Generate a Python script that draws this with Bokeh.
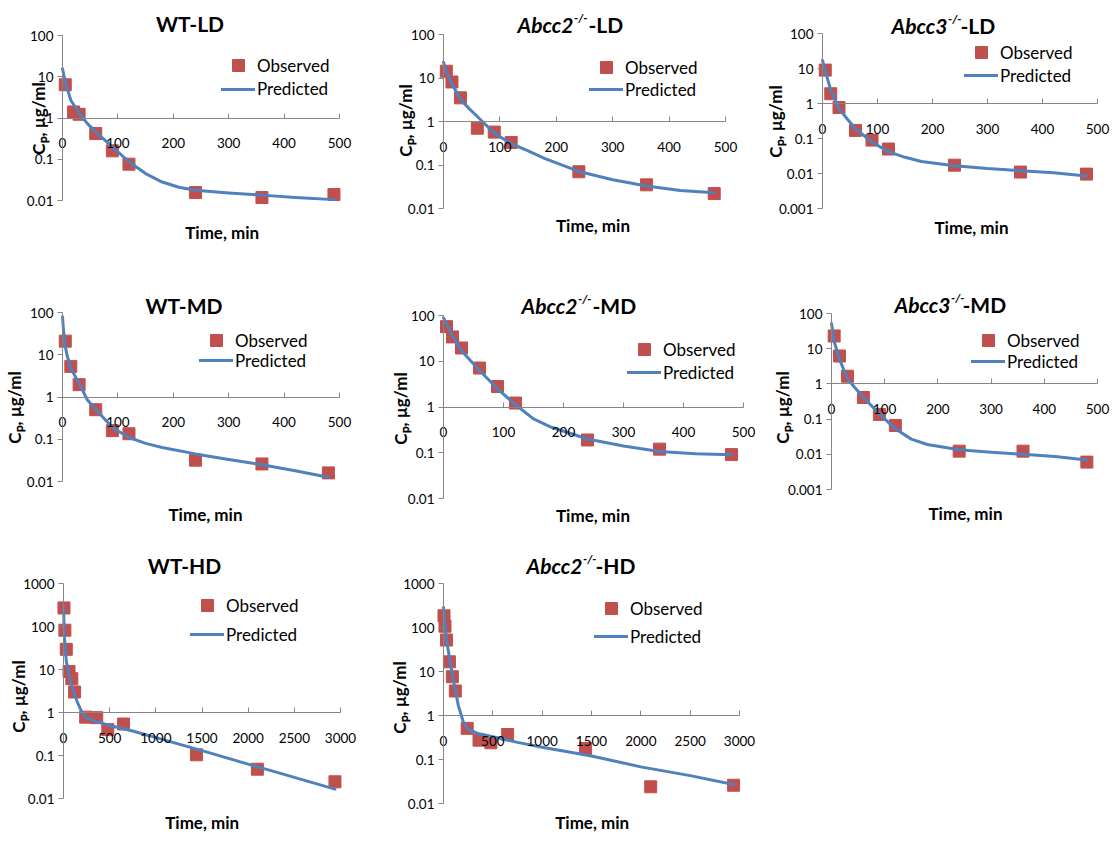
import math
from bokeh.plotting import figure
from bokeh.models import Range1d, FixedTicker, CustomJSTickFormatter, Label, Legend, LegendItem
from bokeh.layouts import column, row
from bokeh.embed import file_html
from bokeh.resources import INLINE

# ---------------- data ----------------
# observation times (min)
t_obs_ld_wt = [5, 20, 30, 60, 90, 120, 240, 360, 490]
t_obs_std = [5, 15, 30, 60, 90, 120, 240, 360, 480]
t_obs_hd = [5, 15, 30, 60, 90, 120, 240, 360, 480, 650, 1440, 2100, 2940]

# observed plasma concentrations (ug/ml)
obs_wt_ld = [6.4, 1.4, 1.23, 0.42, 0.16, 0.076, 0.0156, 0.0118, 0.014]
obs_a2_ld = [14.3, 8.1, 3.5, 0.70, 0.57, 0.33, 0.070, 0.035, 0.022]
obs_a3_ld = [9.0, 1.9, 0.77, 0.17, 0.09, 0.05, 0.0173, 0.011, 0.0096]
obs_wt_md = [21, 5.3, 1.96, 0.5, 0.16, 0.135, 0.032, 0.026, 0.016]
obs_a2_md = [57, 34, 19.5, 7.1, 2.8, 1.22, 0.19, 0.12, 0.091]
obs_a3_md = [23, 6.2, 1.65, 0.41, 0.136, 0.066, 0.0123, 0.0123, 0.006]
obs_wt_hd = [270, 82, 29.5, 9.0, 6.1, 3.0, 0.78, 0.76, 0.4, 0.54, 0.104, 0.048, 0.0245]
obs_a2_hd = [184, 107, 52, 16.6, 7.6, 3.6, 0.51, 0.275, 0.24, 0.37, 0.178, 0.024, 0.026]

# predicted curves (time, concentration)
t_pred_wt_ld = [0, 5, 15, 30, 45, 60, 90, 120, 150, 180, 210, 240, 300, 360, 420, 490]
pred_wt_ld = [15.6, 7.4, 2.7, 1.32, 0.73, 0.46, 0.2, 0.087, 0.045, 0.028, 0.021, 0.0178, 0.0153, 0.0135, 0.0118, 0.0105]
t_pred_a2_ld = [0, 5, 15, 30, 45, 60, 90, 120, 150, 180, 240, 300, 360, 420, 480]
pred_a2_ld = [23, 14, 7.4, 3.2, 2.0, 1.3, 0.54, 0.31, 0.21, 0.14, 0.071, 0.046, 0.033, 0.026, 0.023]
t_pred_a3_ld = [0, 5, 15, 30, 45, 60, 90, 120, 150, 180, 240, 300, 360, 420, 480]
pred_a3_ld = [17, 8.5, 2.4, 0.72, 0.36, 0.19, 0.079, 0.042, 0.029, 0.022, 0.0167, 0.0138, 0.012, 0.0105, 0.0085]
t_pred_wt_md = [0, 2, 5, 8, 15, 30, 45, 60, 90, 120, 150, 180, 240, 300, 360, 420, 480]
pred_wt_md = [79, 35, 16, 10, 4.8, 2.1, 0.85, 0.51, 0.19, 0.11, 0.08, 0.064, 0.045, 0.033, 0.025, 0.018, 0.0126]
t_pred_a2_md = [0, 15, 30, 60, 90, 120, 150, 180, 240, 300, 360, 420, 480]
pred_a2_md = [89, 36, 17, 6.3, 2.5, 1.12, 0.55, 0.36, 0.2, 0.14, 0.107, 0.095, 0.09]
t_pred_a3_md = [0, 5, 15, 30, 45, 60, 90, 120, 150, 180, 240, 300, 360, 420, 480]
pred_a3_md = [52, 16, 5.0, 1.4, 0.75, 0.42, 0.14, 0.053, 0.027, 0.019, 0.0135, 0.0115, 0.01, 0.0086, 0.0069]
t_pred_wt_hd = [0, 10, 30, 60, 100, 150, 200, 250, 350, 500, 750, 1000, 1500, 2000, 2500, 2940]
pred_wt_hd = [290, 57, 16, 7.2, 3.5, 1.74, 1.0, 0.74, 0.62, 0.5, 0.37, 0.26, 0.13, 0.063, 0.031, 0.0165]
t_pred_a2_hd = [0, 30, 60, 90, 120, 150, 200, 250, 350, 500, 750, 1000, 1500, 2000, 2500, 2940]
pred_a2_hd = [285, 52, 21, 8.3, 3.8, 1.7, 0.72, 0.48, 0.39, 0.33, 0.245, 0.19, 0.12, 0.068, 0.043, 0.027]

# tick values
x_ticks_500 = [0, 100, 200, 300, 400, 500]
x_ticks_3000 = [0, 500, 1000, 1500, 2000, 2500, 3000]
y_ticks_4 = [0.01, 0.1, 1, 10, 100]
y_ticks_5 = [0.001, 0.01, 0.1, 1, 10, 100]
y_ticks_hd = [0.01, 0.1, 1, 10, 100, 1000]

legend_labels = ["Observed", "Predicted"]
x_label = "Time, min"
y_label = "C\u209a, \u00b5g/ml"

# ---------------- styles ----------------
FONT = "Lato"
RED = "#C0504D"
BLUE = "#4F81BD"
AXIS = "#868686"

# ---------------- layout specs (page pixel positions) ----------------
panels = [
    dict(title=("WT-LD",), fig=(0, 378, 0, 282), frame=(62, 339, 35, 200),
         xr=x_ticks_500, yr=y_ticks_4, to=t_obs_ld_wt, co=obs_wt_ld, tp=t_pred_wt_ld, cp=pred_wt_ld,
         tpos=(189.5, 23), leg=(221, 65, 88.5), ylab=(37.5, 118), xlab=(221.7, 232)),
    dict(title=("Abcc2", "-/-", "-LD"), fig=(378, 748, 0, 282), frame=(443, 725, 34, 208),
         xr=x_ticks_500, yr=y_ticks_4, to=t_obs_std, co=obs_a2_ld, tp=t_pred_a2_ld, cp=pred_a2_ld,
         tpos=(573, 24, 17, 588), leg=(589, 67, 89), ylab=(405, 120), xlab=(592.5, 225)),
    dict(title=("Abcc3", "-/-", "-LD"), fig=(748, 1113, 0, 282), frame=(822, 1097, 33, 208),
         xr=x_ticks_500, yr=y_ticks_5, to=t_obs_std, co=obs_a3_ld, tp=t_pred_a3_ld, cp=pred_a3_ld,
         tpos=(947, 25, 18, 960), leg=(964, 52, 75), ylab=(775, 121), xlab=(971, 227)),
    dict(title=("WT-MD",), fig=(0, 378, 282, 545), frame=(62, 339, 312, 481),
         xr=x_ticks_500, yr=y_ticks_4, to=t_obs_std, co=obs_wt_md, tp=t_pred_wt_md, cp=pred_wt_md,
         tpos=(183.5, 305), leg=(199, 340, 360), ylab=(13.5, 407), xlab=(205, 514)),
    dict(title=("Abcc2", "-/-", "-MD"), fig=(378, 762, 282, 545), frame=(443, 743, 315, 498),
         xr=x_ticks_500, yr=y_ticks_4, to=t_obs_std, co=obs_a2_md, tp=t_pred_a2_md, cp=pred_a2_md,
         tpos=(577, 305, 298, 592), leg=(627, 349, 372), ylab=(400, 408), xlab=(592.5, 515)),
    dict(title=("Abcc3", "-/-", "-MD"), fig=(762, 1113, 282, 545), frame=(831, 1097, 313, 489),
         xr=x_ticks_500, yr=y_ticks_5, to=t_obs_std, co=obs_a3_md, tp=t_pred_a3_md, cp=pred_a3_md,
         tpos=(950, 304, 297, 962), leg=(971, 340, 361), ylab=(782, 407), xlab=(965, 513)),
    dict(title=("WT-HD",), fig=(0, 378, 545, 844), frame=(63, 340, 583, 798),
         xr=x_ticks_3000, yr=y_ticks_hd, to=t_obs_hd, co=obs_wt_hd, tp=t_pred_wt_hd, cp=pred_wt_hd,
         tpos=(184, 565), leg=(190, 605, 634), ylab=(17.5, 696), xlab=(201.7, 821.7)),
    dict(title=("Abcc2", "-/-", "-HD"), fig=(378, 762, 545, 844), frame=(443, 739, 583, 803),
         xr=x_ticks_3000, yr=y_ticks_hd, to=t_obs_hd, co=obs_a2_hd, tp=t_pred_a2_hd, cp=pred_a2_hd,
         tpos=(582, 565, 558, 595), leg=(594, 608, 636), ylab=(399, 697), xlab=(591.7, 821.7)),
]


def add_text(p, frame, px, py, text, size, style="normal", align="center", angle=0.0):
    L, R, T, B = frame
    p.add_layout(Label(x=0, y=p.tags[0], x_offset=px - L, y_offset=B - py,
                       text=text, text_font=FONT, text_font_size=size, text_font_style=style,
                       text_align=align, text_baseline="middle", angle=angle, text_color="black"))


def make(spec):
    fx0, fx1, fy0, fy1 = spec["fig"]
    L, R, T, B = spec["frame"]
    xr, yr = spec["xr"], spec["yr"]
    # map the Excel plot area onto its pixel box; the Bokeh frame fills the whole figure
    kx = (R - L) / (xr[-1] - xr[0])
    lo, hi = math.log10(yr[0]), math.log10(yr[-1])
    ky = (B - T) / (hi - lo)
    x_range = Range1d(xr[0] - (L - fx0) / kx, xr[-1] + (fx1 - R) / kx)
    y_range = Range1d(10 ** (lo - (fy1 - B) / ky), 10 ** (hi + (T - fy0) / ky))
    p = figure(width=fx1 - fx0, height=fy1 - fy0, x_range=x_range, y_range=y_range,
               y_axis_type="log", output_backend="svg", toolbar_location=None,
               min_border=0, min_border_left=0, min_border_right=0,
               min_border_top=0, min_border_bottom=0)
    p.tags = [yr[0]]
    p.outline_line_color = None
    p.grid.visible = False
    p.background_fill_color = "white"
    p.border_fill_color = "white"

    xa = p.xaxis[0]
    xa.fixed_location = 1
    xa.bounds = (xr[0], xr[-1])
    xa.ticker = FixedTicker(ticks=xr, minor_ticks=[])
    xa.formatter = CustomJSTickFormatter(code="return tick.toString();")
    xa.major_tick_in = 5
    xa.major_tick_out = 0
    xa.minor_tick_line_color = None
    xa.major_label_standoff = 20
    ya = p.yaxis[0]
    ya.fixed_location = 0
    ya.bounds = (yr[0], yr[-1])
    ya.ticker = FixedTicker(ticks=yr, minor_ticks=[])
    ya.formatter = CustomJSTickFormatter(code="return tick.toString();")
    ya.major_tick_in = 0
    ya.major_tick_out = 5
    ya.minor_tick_line_color = None
    ya.major_label_standoff = 4
    for ax in (xa, ya):
        ax.axis_line_color = AXIS
        ax.major_tick_line_color = AXIS
        ax.major_label_text_font = FONT
        ax.major_label_text_font_size = "13.5px"
        ax.major_label_text_color = "black"

    r_obs = p.scatter(spec["to"], spec["co"], marker="square", size=12,
                      fill_color=RED, line_color=RED)
    r_pred = p.line(spec["tp"], spec["cp"], line_width=3, line_color=BLUE,
                    line_join="round", line_cap="round")

    gl, y_obs, y_pred = spec["leg"]
    for lab, rend, yc in ((legend_labels[0], r_obs, y_obs), (legend_labels[1], r_pred, y_pred)):
        leg = Legend(items=[LegendItem(label=lab, renderers=[rend])],
                     location=(gl - fx0, fy1 - (yc + 15)),
                     glyph_width=34, glyph_height=30, label_height=30, label_standoff=2,
                     padding=0, margin=0, spacing=0,
                     background_fill_alpha=0, border_line_color=None,
                     label_text_font=FONT, label_text_font_size="17px", label_text_color="black")
        p.add_layout(leg)

    frame = spec["frame"]
    t = spec["title"]
    tp = spec["tpos"]
    if len(t) == 1:
        add_text(p, frame, tp[0], tp[1], t[0], "21px", "bold")
    else:
        add_text(p, frame, tp[0], tp[1], t[0], "21px", "bold italic", align="right")
        add_text(p, frame, tp[0] + 0.5, tp[2], t[1], "12px", "bold italic", align="left")
        add_text(p, frame, tp[3], tp[1], t[2], "21px", "bold", align="left")

    add_text(p, frame, spec["ylab"][0], spec["ylab"][1], y_label, "17px", "bold", angle=math.pi / 2)
    add_text(p, frame, spec["xlab"][0], spec["xlab"][1], x_label, "17px", "bold")
    return p


figs = [make(s) for s in panels]
layout = column(row(figs[0], figs[1], figs[2]),
                row(figs[3], figs[4], figs[5]),
                row(figs[6], figs[7]))

open("out.html", "w").write(file_html(layout, INLINE))
